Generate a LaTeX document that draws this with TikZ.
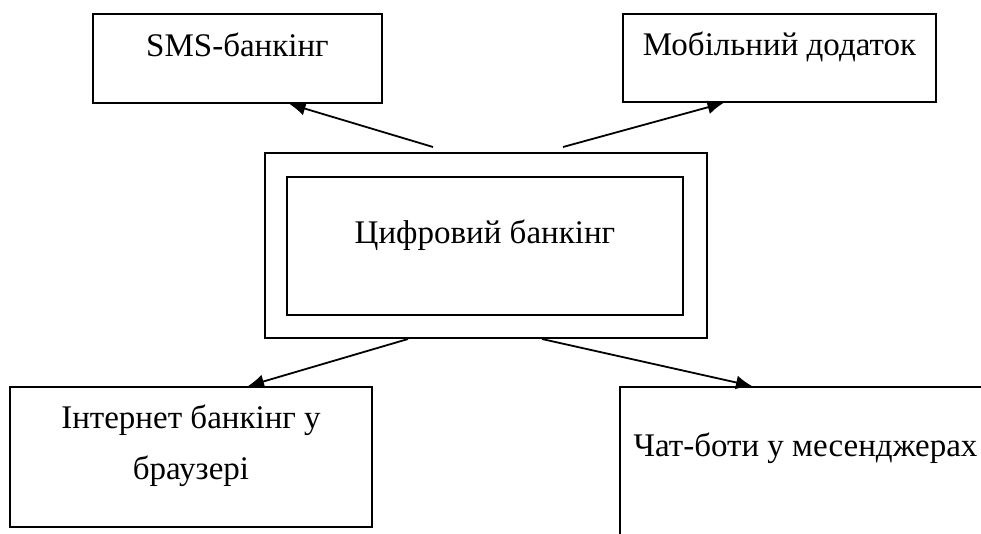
\documentclass[tikz,border=0pt]{standalone}
\usepackage{fontspec}
\setmainfont{Liberation Serif}
\newfontfamily\boxfont{Liberation Serif}
\usetikzlibrary{arrows.meta}

\begin{document}
\begin{tikzpicture}[
			x=1pt, y=-1pt,
			line width=2pt,
			% Style for the boxes
			block/.style={
				rectangle,
				draw=black,
				inner sep=0pt,
				align=center,
				font=\boxfont\fontsize{33}{51}\selectfont
			},
			% Style for the arrows
			link/.style={
				-{Latex[length=16pt,width=14pt]},
				line width=1.8pt
			}
			]
			
			% --- FRAME ---
			\clip (0,0) rectangle (981,533);
			
			% --- NODES ---
			
			% Top row
			\node[block, anchor=north, minimum width=289pt, text height=42pt, text depth=47pt] (sms) at (237.5,13) {SMS-банкінг};
			\node[block, anchor=north, minimum width=313pt, text height=41pt, text depth=47pt] (mobile) at (779.5,13) {Мобільний додаток};
			
			% Centre (double frame)
			\node[block, minimum width=442pt, minimum height=185pt] (outer) at (486,245.5) {};
			\node[block, anchor=north, minimum width=396pt, text height=66pt, text depth=72pt] (core) at (485,176) {Цифровий банкінг};
			
			% Bottom row
			\node[block, anchor=north, minimum width=362pt, text height=92pt, text depth=48pt] (internet) at (191,386) {Інтернет банкінг у\\браузері};
			\node[block, anchor=north west, minimum width=371pt, text height=69pt, text depth=200pt] (chat) at (619,386) {Чат-боти у месенджерах};
			
			% --- ARROWS ---
			\draw[link] ([xshift=-53pt,yshift=5pt]outer.north) -- ([xshift=52pt]sms.south);
			\draw[link] ([xshift=77pt,yshift=5pt]outer.north) -- ([xshift=-56pt]mobile.south);
			\draw[link] ([xshift=-78pt]outer.south) -- ([xshift=57pt]internet.north);
			\draw[link] ([xshift=56pt]outer.south) -- ([xshift=133pt]chat.north west);
			
		\end{tikzpicture}
\end{document}
